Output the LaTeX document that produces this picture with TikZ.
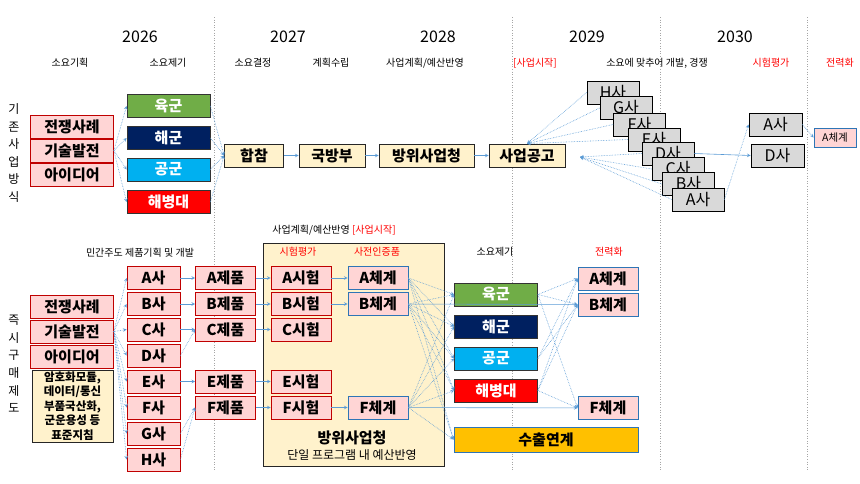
\documentclass[tikz,border=0pt]{standalone}
\usepackage{fontspec}
\setmainfont{Noto Sans CJK KR}

\definecolor{lineblue}{RGB}{91,155,213}
\definecolor{pinkfill}{RGB}{255,213,213}
\definecolor{darkred}{RGB}{192,0,0}
\definecolor{boxblue}{RGB}{46,117,182}
\definecolor{cream}{RGB}{255,242,204}
\definecolor{firmgray}{RGB}{217,217,217}
\definecolor{armygreen}{RGB}{112,173,71}
\definecolor{navyblue}{RGB}{0,32,96}
\definecolor{airblue}{RGB}{0,176,240}
\definecolor{exportorange}{RGB}{255,192,0}
\definecolor{gridgray}{RGB}{166,166,166}

\tikzstyle{year} = [font=\fontsize{16}{18}\selectfont]
\tikzstyle{head} = [font=\fontsize{10}{12}\selectfont]
\tikzstyle{subhead} = [font=\fontsize{10}{12}\selectfont]
\tikzstyle{vlabel} = [align=center, font=\fontsize{12}{17.6}\selectfont]
\tikzstyle{srcbox} = [rectangle, minimum width=83pt, minimum height=23pt, inner sep=0pt, text centered, draw=darkred, fill=pinkfill, line width=0.8pt, font=\fontsize{15}{18}\selectfont\bfseries]
\tikzstyle{compbox} = [srcbox, minimum width=53pt]
\tikzstyle{prodbox} = [srcbox, minimum width=60pt]
\tikzstyle{sysbox} = [prodbox, draw=boxblue]
\tikzstyle{svcbox} = [rectangle, minimum width=83pt, minimum height=23pt, inner sep=0pt, text centered, draw=black!80, line width=0.8pt, text=white, font=\fontsize{15}{18}\selectfont\bfseries]
\tikzstyle{procbox} = [rectangle, minimum height=23pt, inner sep=0pt, text centered, draw=black!85, fill=cream, line width=0.8pt, font=\fontsize{15}{18}\selectfont\bfseries]
\tikzstyle{firmbox} = [rectangle, minimum width=52pt, minimum height=23pt, inner sep=0pt, text centered, draw=black, fill=firmgray, line width=0.8pt, font=\fontsize{16}{18}\selectfont]
\tikzstyle{rulebox} = [rectangle, minimum width=81pt, minimum height=72pt, inner sep=0pt, align=center, draw=black!85, fill=cream, line width=0.8pt, font=\fontsize{11.5}{14.5}\selectfont\bfseries]
\tikzstyle{exportbox} = [rectangle, minimum width=184pt, minimum height=25pt, inner sep=0pt, text centered, draw=boxblue, fill=exportorange, line width=1pt, font=\fontsize{15}{18}\selectfont\bfseries]
\tikzstyle{grid} = [gridgray, dotted, line width=0.6pt]
\tikzstyle{arrow} = [->, >=stealth, line width=0.6pt, color=lineblue]
\tikzstyle{dotarrow} = [arrow, densely dotted]

\begin{document}
\begin{tikzpicture}[x=1pt, y=-1pt]
\useasboundingbox (0,0) rectangle (860,483);

\draw [grid] (214,17) -- (214,470);
\draw [grid] (512,17) -- (512,470);
\draw [grid] (660,17) -- (660,470);
\draw [grid] (807,17) -- (807,470);

\node (y2026) [year] at (140,37) {2026};
\node (y2027) [year] at (288,37) {2027};
\node (y2028) [year] at (438,37) {2028};
\node (y2029) [year] at (587,37) {2029};
\node (y2030) [year] at (735,37) {2030};

\node (hplan) [head] at (70,63) {소요기획};
\node (hraise) [head] at (168,63) {소요제기};
\node (hdecide) [head] at (253,63) {소요결정};
\node (hset) [head] at (331,63) {계획수립};
\node (hbudget) [head] at (425,63) {사업계획/예산반영};
\node (hstart) [head, text=red] at (535,63) {[사업시작]};
\node (hcompete) [head] at (657,63) {소요에 맞추어 개발, 경쟁};
\node (htest) [head, text=red] at (771,63) {시험평가};
\node (hfield) [head, text=red] at (840,63) {전력화};

\node (oldway) [vlabel] at (14,153) {기\\존\\사\\업\\방\\식};
\node (fastway) [vlabel] at (14,364) {즉\\시\\구\\매\\제\\도};

\node (war1) [srcbox] at (72,126.5) {전쟁사례};
\node (tech1) [srcbox] at (72,150.5) {기술발전};
\node (idea1) [srcbox] at (72,175) {아이디어};

\node (army1) [svcbox, fill=armygreen] at (168.5,106) {육군};
\node (navy1) [svcbox, fill=navyblue] at (168.5,138) {해군};
\node (air1) [svcbox, fill=airblue] at (168.5,169.5) {공군};
\node (marine1) [svcbox, fill=red] at (168.5,202) {해병대};

\node (jcs) [procbox, minimum width=59pt] at (254,155.5) {합참};
\node (mnd) [procbox, minimum width=66pt] at (332,155.5) {국방부};
\node (dapa) [procbox, minimum width=95pt] at (426.5,155.5) {방위사업청};
\node (notice) [procbox, minimum width=76pt] at (527,155.5) {사업공고};
\coordinate (noticein) at (580,157);

\node (firmH) [firmbox] at (613,92.5) {H사};
\node (firmG) [firmbox] at (626,108) {G사};
\node (firmF) [firmbox] at (639.5,124.5) {F사};
\node (firmE) [firmbox] at (654,139.5) {E사};
\node (firmD) [firmbox] at (668,153.5) {D사};
\node (firmC) [firmbox] at (678,169) {C사};
\node (firmB) [firmbox] at (688.5,184) {B사};
\node (firmA) [firmbox] at (698,199.5) {A사};

\node (evalA) [firmbox, minimum width=53pt] at (775.5,124.5) {A사};
\node (evalD) [firmbox, minimum width=53pt] at (777.5,155.5) {D사};
\node (fieldA1) [sysbox, minimum width=42pt, minimum height=19pt, font=\fontsize{10.5}{12}\selectfont] at (835,137.5) {A체계};

\draw [dotarrow] (tech1.east) -- (army1.west);
\draw [dotarrow] (tech1.east) -- (navy1.west);
\draw [dotarrow] (tech1.east) -- (air1.west);
\draw [dotarrow] (tech1.east) -- (marine1.west);

\draw [dotarrow] (army1.east) -- (jcs.west);
\draw [dotarrow] (navy1.east) -- (jcs.west);
\draw [dotarrow] (air1.east) -- (jcs.west);
\draw [dotarrow] (marine1.east) -- (jcs.west);

\draw [arrow] (jcs) -- (mnd);
\draw [arrow] (mnd) -- (dapa);
\draw [arrow] (dapa) -- (notice);

\draw [dotarrow] (firmH.west) -- (notice.north);
\draw [dotarrow] (firmG.west) -- (notice.north);
\draw [dotarrow] (firmF.west) -- (notice.north);
\draw [dotarrow] (firmE.west) -- (notice.north);
\draw [dotarrow] (firmD.west) -- (noticein);
\draw [dotarrow] (firmC.west) -- (noticein);
\draw [dotarrow] (firmB.west) -- (noticein);
\draw [dotarrow] (firmA.west) -- (noticein);

\draw [dotarrow] (firmA.east) -- (evalA.west);
\draw [arrow] (firmD.east) -- (evalD.west);
\draw [dotarrow] (evalA.east) -- (fieldA1.west);

\node (dapabox) [procbox, minimum width=181pt, minimum height=223pt] at (353.5,354.5) {};

\node (hprivate) [subhead] at (140,253) {민간주도 제품기획 및 개발};
\node (hbudget2) [subhead] at (334,230) {사업계획/예산반영 \textcolor{red}{[사업시작]}};
\node (htest2) [subhead, text=red] at (298,252) {시험평가};
\node (hcert) [subhead, text=red] at (377,252) {사전인증품};
\node (hraise2) [subhead] at (495,252) {소요제기};
\node (hfield2) [subhead, text=red] at (609,252) {전력화};

\node (war2) [srcbox] at (72,306.5) {전쟁사례};
\node (tech2) [srcbox] at (72,331.5) {기술발전};
\node (idea2) [srcbox] at (72,356.5) {아이디어};
\node (rules) [rulebox] at (72.5,406) {암호화모듈,\\데이터/통신\\부품국산화,\\군운용성 등\\표준지침};

\node (compA) [compbox] at (153.5,278) {A사};
\node (compB) [compbox] at (153.5,304) {B사};
\node (compC) [compbox] at (153.5,329.5) {C사};
\node (compD) [compbox] at (153.5,355.5) {D사};
\node (compE) [compbox] at (153.5,381.5) {E사};
\node (compF) [compbox] at (153.5,407.5) {F사};
\node (compG) [compbox] at (153.5,433.5) {G사};
\node (compH) [compbox] at (153.5,459.5) {H사};

\node (prodA) [prodbox] at (225.5,278) {A제품};
\node (prodB) [prodbox] at (225.5,304) {B제품};
\node (prodC) [prodbox] at (225.5,329.5) {C제품};
\node (prodE) [prodbox] at (225.5,381.5) {E제품};
\node (prodF) [prodbox] at (225.5,407.5) {F제품};

\node (testA) [prodbox] at (301,278) {A시험};
\node (testB) [prodbox] at (301,304) {B시험};
\node (testC) [prodbox] at (301,329.5) {C시험};
\node (testE) [prodbox] at (301,381.5) {E시험};
\node (testF) [prodbox] at (301,407.5) {F시험};

\node (sysA) [sysbox] at (378,278) {A체계};
\node (sysB) [sysbox] at (378,304) {B체계};
\node (sysF) [sysbox] at (378,407.5) {F체계};

\node (dapaname) [font=\fontsize{15}{18}\selectfont\bfseries] at (352,438) {방위사업청};
\node (dapanote) [font=\fontsize{12}{14}\selectfont] at (352,455) {단일 프로그램 내 예산반영};

\node (army2) [svcbox, fill=armygreen] at (496,294.5) {육군};
\node (navy2) [svcbox, fill=navyblue] at (496,326.5) {해군};
\node (air2) [svcbox, fill=airblue] at (496,358.5) {공군};
\node (marine2) [svcbox, fill=red] at (496,390.5) {해병대};
\node (export) [exportbox] at (546,439.5) {수출연계};

\node (fieldA2) [sysbox] at (608,278.5) {A체계};
\node (fieldB2) [sysbox] at (608,304.5) {B체계};
\node (fieldF2) [sysbox] at (608,408) {F체계};

\draw [dotarrow] (tech2.east) -- (compA.west);
\draw [dotarrow] (tech2.east) -- (compB.west);
\draw [dotarrow] (tech2.east) -- (compC.west);
\draw [dotarrow] (tech2.east) -- (compD.west);
\draw [dotarrow] (tech2.east) -- (compE.west);
\draw [dotarrow] (tech2.east) -- (compF.west);
\draw [dotarrow] (tech2.east) -- (compG.west);
\draw [dotarrow] (tech2.east) -- (compH.west);

\draw [arrow] (compA) -- (prodA);
\draw [arrow] (compB) -- (prodB);
\draw [arrow] (compC) -- (prodC);
\draw [dotarrow] (compD.east) -- (prodC.west);
\draw [arrow] (compE) -- (prodE);
\draw [dotarrow] (compG.east) -- (prodF.west);
\draw [dotarrow] (compH.east) -- (prodF.west);

\draw [arrow] (prodA) -- (testA);
\draw [arrow] (prodB) -- (testB);
\draw [arrow] (prodC) -- (testC);
\draw [arrow] (prodE) -- (testE);
\draw [arrow] (prodF) -- (testF);

\draw [arrow] (testA) -- (sysA);
\draw [arrow] (testB) -- (sysB);
\draw [arrow] (testF) -- (sysF);

\draw [dotarrow] (sysA.east) -- (army2.west);
\draw [dotarrow] (sysA.east) -- (navy2.west);
\draw [dotarrow] (sysA.east) -- (air2.west);
\draw [dotarrow] (sysA.east) -- (marine2.west);
\draw [dotarrow] (sysA.east) -- (export.west);
\draw [dotarrow] (sysB.east) -- (army2.west);
\draw [dotarrow] (sysB.east) -- (navy2.west);
\draw [dotarrow] (sysB.east) -- (air2.west);
\draw [dotarrow] (sysB.east) -- (marine2.west);
\draw [dotarrow] (sysB.east) -- (export.west);
\draw [dotarrow] (sysF.east) -- (army2.west);
\draw [dotarrow] (sysF.east) -- (navy2.west);
\draw [dotarrow] (sysF.east) -- (air2.west);
\draw [dotarrow] (sysF.east) -- (marine2.west);
\draw [dotarrow] (sysF.east) -- (export.west);

\draw [arrow] (sysB) -- (fieldB2);
\draw [arrow] (sysF) -- (fieldF2);

\draw [dotarrow] (army2.east) -- (fieldA2.west);
\draw [dotarrow] (army2.east) -- (fieldB2.west);
\draw [dotarrow] (army2.east) -- (fieldF2.west);
\draw [dotarrow] (air2.east) -- (fieldA2.west);
\draw [dotarrow] (air2.east) -- (fieldB2.west);
\draw [dotarrow] (marine2.east) -- (fieldA2.west);
\draw [dotarrow] (marine2.east) -- (fieldB2.west);
\draw [dotarrow] (marine2.east) -- (fieldF2.west);
\end{tikzpicture}
\end{document}
